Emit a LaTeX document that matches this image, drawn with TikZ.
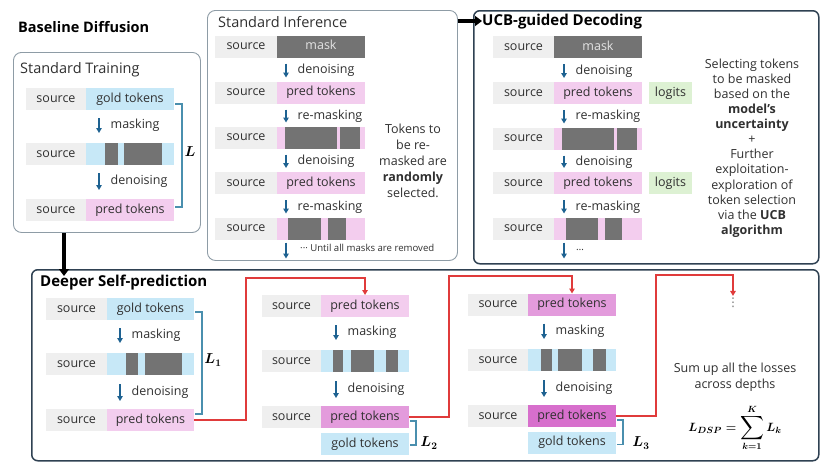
\documentclass[tikz,border=0pt]{standalone}
\usepackage{amsmath}
\usepackage{graphicx}
\usepackage{fontspec}
\setmainfont{Open Sans}
\newfontfamily\dejavu{DejaVu Sans}
\usetikzlibrary{arrows.meta,calc}
\definecolor{srcgray}{HTML}{EFEFEF}
\definecolor{goldblue}{HTML}{C7E8F7}
\definecolor{predpink}{HTML}{F3CDEE}
\definecolor{pinkmid}{HTML}{E39BDC}
\definecolor{pinkdark}{HTML}{D76FCC}
\definecolor{maskgray}{HTML}{737373}
\definecolor{maskfont}{HTML}{E4E4E4}
\definecolor{logitgreen}{HTML}{DDF1D3}
\definecolor{arrowblue}{HTML}{1E6291}
\definecolor{bracketblue}{HTML}{4A8FAE}
\definecolor{redc}{HTML}{E03B3B}
\definecolor{lightframe}{HTML}{8E9CA6}
\definecolor{darkframe}{HTML}{2F4152}
\definecolor{txt}{HTML}{303030}
\newcommand\rowfont{\fontsize{12.5}{15}\selectfont}
\newcommand\bigsum{\mathop{\vcenter{\hbox{\scalebox{1.38}{$\displaystyle\sum$}}}}\limits}
\newcommand\stepdown[6]{\draw[stepar] ($(#1.south west)+(#3,#5)$) -- ($(#2.north west)+(#3,-#6)$) node[midway, lbl] (lab#1) {#4};}
\begin{document}
\begin{tikzpicture}[x=1pt,y=-1pt,
  cell/.style={minimum height=22, inner sep=0, outer sep=0, font=\rowfont, text=txt, text height=9, text depth=2.5},
  src/.style={cell, fill=srcgray, minimum width=60},
  gold/.style={cell, fill=goldblue, minimum width=88},
  pred/.style={cell, fill=predpink, minimum width=88},
  maskc/.style={cell, fill=maskgray, minimum width=88, text=maskfont},
  logit/.style={cell, fill=logitgreen, minimum width=43},
  blk/.style={fill=maskgray, inner sep=0, outer sep=0, minimum height=22},
  stepar/.style={-{Triangle[width=5.5,length=5]}, line width=1.3, arrowblue},
  lbl/.style={anchor=west, font=\rowfont, text=txt, inner sep=0, xshift=11},
  bracket/.style={line width=1.1, bracketblue},
  redline/.style={line width=1.3, redc, -{Triangle[width=5.5,length=5]}},
  lightbox/.style={draw=lightframe, line width=0.9, rounded corners=8, anchor=north west, inner sep=0},
  darkbox/.style={draw=darkframe, line width=1.5, rounded corners=6, anchor=north west, inner sep=0},
  titleb/.style={anchor=west, inner sep=0, font=\fontsize{15}{18}\selectfont\bfseries},
  titler/.style={anchor=west, inner sep=0, font=\fontsize{14.5}{18}\selectfont, text=txt},
  side/.style={align=center, inner sep=0, text=txt},
  bigarrow/.style={line width=3.6, -{Triangle[width=10,length=7]}},
  lossl/.style={inner sep=0, font=\fontsize{14.4}{16}\selectfont\boldmath}
]
\useasboundingbox (0,0) rectangle (824,466);
\fill[white] (0,0) rectangle (824,466);

% ---------------- boxes ----------------
\node[lightbox, minimum width=187, minimum height=180] (stbox) at (13,52) {};
\node[lightbox, minimum width=250, minimum height=250] (sibox) at (207,10) {};
\node[darkbox, minimum width=345, minimum height=253] (ucbbox) at (473,10) {};
\node[darkbox, minimum width=787, minimum height=191] (dspbox) at (31,269) {};

% ---------------- titles ----------------
\node[titleb, font=\fontsize{14.5}{18}\selectfont\bfseries] (tbase) at (18,27) {Baseline Diffusion};
\node[titler] (tst) at (20,70) {Standard Training};
\node[titler] (tsi) at (218,22) {Standard Inference};
\node[titleb] (tucb) at (482,22) {UCB-guided Decoding};
\node[titleb] (tdsp) at (40,283) {Deeper Self-prediction};

% ---------------- Standard Training ----------------
\node[src] (st1s) at (56,99) {source};
\node[gold] (st1t) at (130,99) {gold tokens};
\node[src] (st2s) at (56,154) {source};
\node[gold] (st2t) at (130,154) {};
\node[blk, minimum width=13] (st2b1) at (111.5,154) {};
\node[blk, minimum width=38] (st2b2) at (143,154) {};
\node[src] (st3s) at (56,210) {source};
\node[pred] (st3t) at (130,210) {pred tokens};
\stepdown{st1t}{st2t}{13}{masking}{8}{10}
\stepdown{st2t}{st3t}{13}{denoising}{8}{9}
\draw[bracket] ($(st1t.east)+(1,5)$) -- ++(7,0) |- ($(st3t.east)+(1,-3)$);
\node[lossl] (stL) at (190,152) {$L$};

% ---------------- Standard Inference ----------------
\node[src, minimum width=62] (si1s) at (246,46.5) {source};
\node[maskc] (si1t) at (321,46.5) {mask};
\node[src, minimum width=62] (si2s) at (246,92.5) {source};
\node[pred] (si2t) at (321,92.5) {pred tokens};
\node[src, minimum width=62] (si3s) at (246,137.5) {source};
\node[pred] (si3t) at (321,137.5) {};
\node[blk, minimum width=52] (si3b1) at (311,137.5) {};
\node[blk, minimum width=20] (si3b2) at (350,137.5) {};
\node[src, minimum width=62] (si4s) at (246,183) {source};
\node[pred] (si4t) at (321,183) {pred tokens};
\node[src, minimum width=62] (si5s) at (246,228.5) {source};
\node[pred] (si5t) at (321,228.5) {};
\node[blk, minimum width=33] (si5b1) at (304.5,228.5) {};
\node[blk, minimum width=18] (si5b2) at (337,228.5) {};
\stepdown{si1t}{si2t}{9}{denoising}{6}{4}
\stepdown{si2t}{si3t}{9}{re-masking}{6}{4}
\stepdown{si3t}{si4t}{9}{denoising}{6}{4}
\stepdown{si4t}{si5t}{9}{re-masking}{6}{4}
\coordinate (siend) at ($(si5t.south west)+(9,19)$);
\draw[stepar] ($(si5t.south west)+(9,3)$) -- (siend);
\node[anchor=west, inner sep=0, font=\fontsize{9.6}{11}\selectfont, text=txt] (siuntil) at (300,248) {··· Until all masks are removed};
\node[side, font=\fontsize{12.5}{16}\selectfont] (sitext) at (413,161) {Tokens to\\be re-\\masked are\\\textbf{randomly}\\selected.};

% ---------------- UCB-guided Decoding ----------------
\node[src, minimum width=61] (u1s) at (523.5,47) {source};
\node[maskc] (u1t) at (598,47) {mask};
\node[src, minimum width=61] (u2s) at (523.5,93) {source};
\node[pred] (u2t) at (598,93) {pred tokens};
\node[logit] (u2l) at (670.5,93) {logits};
\node[src, minimum width=61] (u3s) at (523.5,138.5) {source};
\node[pred] (u3t) at (598,138.5) {};
\node[blk, minimum width=52] (u3b1) at (588,138.5) {};
\node[blk, minimum width=20] (u3b2) at (627,138.5) {};
\node[src, minimum width=61] (u4s) at (523.5,183) {source};
\node[pred] (u4t) at (598,183) {pred tokens};
\node[logit] (u4l) at (670.5,183) {logits};
\node[src, minimum width=61] (u5s) at (523.5,228.5) {source};
\node[pred] (u5t) at (598,228.5) {};
\node[blk, minimum width=32] (u5b1) at (582,228.5) {};
\node[blk, minimum width=17] (u5b2) at (613.5,228.5) {};
\stepdown{u1t}{u2t}{10}{denoising}{6}{4}
\stepdown{u2t}{u3t}{10}{re-masking}{6}{4}
\stepdown{u3t}{u4t}{10}{denoising}{6}{4}
\stepdown{u4t}{u5t}{10}{re-masking}{6}{4}
\coordinate (uend) at ($(u5t.south west)+(10,19)$);
\draw[stepar] ($(u5t.south west)+(10,3)$) -- (uend);
\node[anchor=west, inner sep=0, font=\fontsize{10}{11}\selectfont, text=txt] (udots) at (576,250) {…};
\node[side, font=\fontsize{12.5}{15.1}\selectfont] (ucbtext) at (752,148) {Selecting tokens\\to be masked\\based on the\\\textbf{model’s}\\\textbf{uncertainty}\\+\\Further\\exploitation-\\exploration of\\token selection\\via the \textbf{UCB}\\\textbf{algorithm}};

% ---------------- Deeper Self-prediction: column 1 ----------------
\node[src, minimum width=61] (a1s) at (76.5,309) {source};
\node[gold, minimum width=87] (a1t) at (150.5,309) {gold tokens};
\node[src, minimum width=61] (a2s) at (76.5,364) {source};
\node[gold, minimum width=87] (a2t) at (150.5,364) {};
\node[blk, minimum width=12] (a2b1) at (132,364) {};
\node[blk, minimum width=37] (a2b2) at (163.5,364) {};
\node[src, minimum width=61] (a3s) at (76.5,420) {source};
\node[pred, minimum width=87] (a3t) at (150.5,420) {pred tokens};
\stepdown{a1t}{a2t}{13}{masking}{8}{10}
\stepdown{a2t}{a3t}{13}{denoising}{9}{8}
\draw[bracket] ($(a1t.east)+(1,3)$) -- ++(7,0) |- ($(a3t.east)+(1,-6)$);
\node[lossl] (aL) at (213,360) {$L_1$};

% ---------------- column 2 ----------------
\node[src, minimum width=59] (b1s) at (291.5,306) {source};
\node[pred] (b1t) at (365,306) {pred tokens};
\node[src, minimum width=59] (b2s) at (291.5,361) {source};
\node[gold] (b2t) at (365,361) {};
\node[blk, minimum width=10] (b2b1) at (338,361) {};
\node[blk, minimum width=23] (b2b2) at (362.5,361) {};
\node[blk, minimum width=12] (b2b3) at (392,361) {};
\node[src, minimum width=59] (b3s) at (291.5,417) {source};
\node[pred, fill=pinkmid] (b3t) at (365,417) {pred tokens};
\node[gold] (b4t) at (365,444) {gold tokens};
\stepdown{b1t}{b2t}{15}{masking}{8}{10}
\stepdown{b2t}{b3t}{15}{denoising}{9}{8}
\draw[bracket] ($(b3t.east)+(1,4)$) -- ++(6,0) |- ($(b4t.east)+(1,1)$);
\node[lossl] (bL) at (429,443) {$L_2$};

% ---------------- column 3 ----------------
\node[src] (c1s) at (498,304.5) {source};
\node[pred, fill=pinkmid] (c1t) at (572,304.5) {pred tokens};
\node[src] (c2s) at (498,360) {source};
\node[gold] (c2t) at (572,360) {};
\node[blk, minimum width=11] (c2b1) at (546.5,360) {};
\node[blk, minimum width=24] (c2b2) at (570,360) {};
\node[blk, minimum width=13] (c2b3) at (599.5,360) {};
\node[src] (c3s) at (498,416) {source};
\node[pred, fill=pinkdark] (c3t) at (572,416) {pred tokens};
\node[gold] (c4t) at (572,442.5) {gold tokens};
\stepdown{c1t}{c2t}{16}{masking}{8}{10}
\stepdown{c2t}{c3t}{16}{denoising}{9}{8}
\draw[bracket] ($(c3t.east)+(1,4)$) -- ++(6,0) |- ($(c4t.east)+(1,2)$);
\node[lossl] (cL) at (641,443) {$L_3$};

% ---------------- right part of DSP ----------------
\node[inner sep=0, font=\dejavu\fontsize{12}{13}\selectfont, text=black!55] (vdots) at (733,303) {⋮};
\node[side, font=\fontsize{12.5}{16}\selectfont] (sumtext) at (735,377) {Sum up all the losses\\across depths};
\node[inner sep=0, font=\fontsize{13}{15}\selectfont\boldmath] (sumf) at (735,428) {$L_{DSP}=\bigsum_{k=1}^{K}L_k$};

% ---------------- red connectors ----------------
\coordinate (r1) at (246,278);
\coordinate (r2) at (449,276);
\coordinate (r3) at (656,275);
\draw[redline] (a3t.east) -| (r1) -| (b1t.north);
\draw[redline] (b3t.east) -| (r2) -| (c1t.north);
\draw[redline, shorten >=2] (c3t.east) -| (r3) -| (vdots.north);

% ---------------- black connectors ----------------
\draw[bigarrow] ($(stbox.south west)+(51,0)$) -- ($(dspbox.north west)+(33,7)$);
\draw[bigarrow] ($(sibox.north east)+(0,11)$) -- ($(ucbbox.north west)+(9,11)$);
\end{tikzpicture}
\end{document}
